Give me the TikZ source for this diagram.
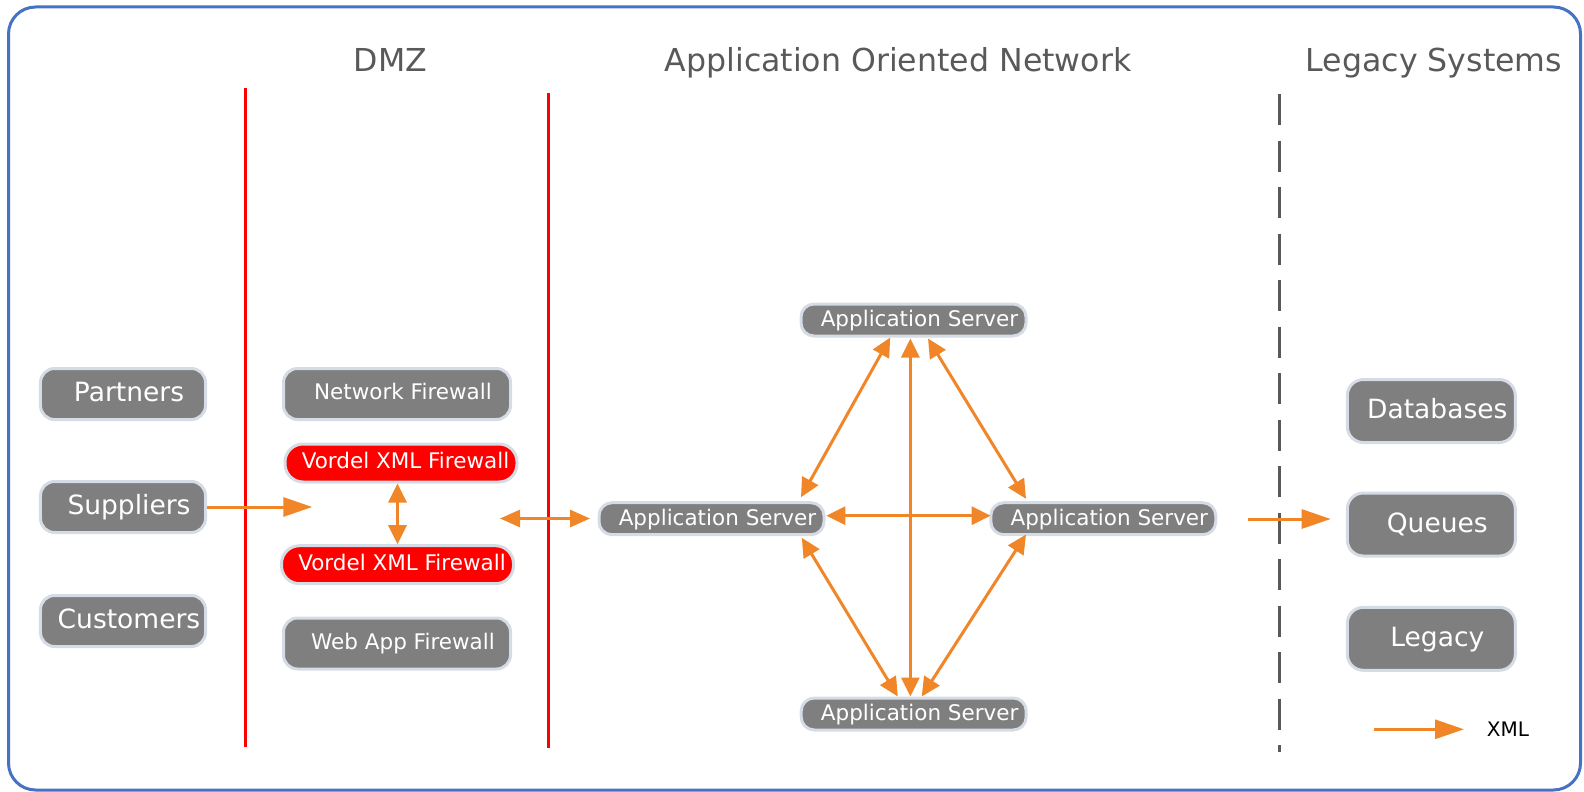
\documentclass[tikz,border=0pt]{standalone}
\usepackage{fontspec}
\setmainfont{DejaVu Sans}
\usetikzlibrary{arrows.meta,calc}
\definecolor{frameblue}{HTML}{4472C4}
\definecolor{boxgray}{HTML}{7F7F7F}
\definecolor{nodeborder}{HTML}{D6DCE5}
\definecolor{titlegray}{HTML}{595959}
\definecolor{xorange}{RGB}{240,134,40}
\tikzset{
  basebox/.style={draw=nodeborder, line width=3bp, fill=boxgray, text=white, inner sep=0pt,
    text depth=0bp, execute at begin node={\hspace*{#1}}},
  basebox/.default=12bp,
  lbox/.style={basebox, minimum width=165bp, minimum height=51bp, rounded corners=14bp,
    font=\fontsize{26.5bp}{30bp}\selectfont, text height=15.3bp},
  fwbox/.style={basebox, minimum width=227bp, minimum height=51bp, rounded corners=14bp,
    font=\fontsize{21.5bp}{25bp}\selectfont, text height=11.7bp},
  vbox/.style={basebox=9bp, fill=red, minimum width=232bp, minimum height=38bp, rounded corners=18bp,
    font=\fontsize{21.5bp}{25bp}\selectfont, text height=11.7bp},
  asbox/.style={basebox, minimum width=225bp, minimum height=32bp, rounded corners=13bp,
    font=\fontsize{21.5bp}{25bp}\selectfont, text height=13bp},
  rbox/.style={basebox, minimum width=168bp, minimum height=63bp, rounded corners=16bp,
    font=\fontsize{26.5bp}{30bp}\selectfont, text height=15.3bp},
  title/.style={text=titlegray, inner sep=0pt, font=\fontsize{31.6bp}{36bp}\selectfont,
    text height=23bp, text depth=0bp},
  xml/.style={draw=xorange, line width=3bp},
  bigarrow/.style={xml, -{Triangle[length=29bp,width=19bp]}},
  dbl/.style={xml, {Triangle[length=19bp,width=18bp]}-{Triangle[length=19bp,width=18bp]}},
}
\begin{document}
\begin{tikzpicture}[x=1bp, y=-1bp]
\useasboundingbox (0,0) rectangle (1584,792);
% frame
\draw[frameblue, line width=3bp, rounded corners=27bp] (8.5,7) rectangle (1580.5,790);
% titles
\node[title] (tdmz) at (390.5,60.5) {DMZ};
\node[title] (taon) at (898,60.5) {Application Oriented Network};
\node[title] (tleg) at (1434,60.5) {Legacy Systems};
% separators
\draw[red, line width=3bp] (245,88) -- (245,747);
\draw[red, line width=3bp] (548.5,93) -- (548.5,748);
\draw[titlegray, line width=3bp, dash pattern=on 31bp off 15.5bp] (1279,94) -- (1279,752);
% left boxes
\node[lbox] (partners) at (123,394) {Partners};
\node[lbox] (suppliers) at (123,507) {Suppliers};
\node[lbox] (customers) at (123,621) {Customers};
% DMZ boxes
\node[fwbox] (netfw) at (397,394) {Network Firewall};
\node[vbox] (vordel1) at (401,463) {Vordel XML Firewall};
\node[vbox] (vordel2) at (397.5,564.7) {Vordel XML Firewall};
\node[fwbox] (webfw) at (397,643.5) {Web App Firewall};
% application servers
\node[asbox] (atop) at (913.5,320) {Application Server};
\node[asbox] (aleft) at (711.5,518.7) {Application Server};
\node[asbox] (aright) at (1103.3,518.7) {Application Server};
\node[asbox] (abot) at (913.7,714) {Application Server};
% legacy boxes
\node[rbox] (db) at (1431.3,411) {Databases};
\node[rbox] (queues) at (1431.3,524.5) {Queues};
\node[rbox] (legacy) at (1431.3,638.8) {Legacy};
% free ends
\coordinate (supend) at (312.3,507);
\coordinate (dl1) at (500,518.5);
\coordinate (dl2) at (590,518.5);
\coordinate (q1) at (1247.7,519);
\coordinate (q2) at (1330.7,519);
\coordinate (lg1) at (1374,729.3);
\coordinate (lg2) at (1464,729.3);
% arrows
\draw[bigarrow] (suppliers.east) -- (supend);
\draw[dbl] (vordel1.south -| vordel2.north) -- (vordel2.north);
\draw[xml, {Triangle[length=20bp,width=17bp]}-{Triangle[length=20bp,width=17bp]}] (dl1) -- (dl2);
\draw[dbl] ($(atop.south)+(-23.3,0)$) -- ($(aleft.north)+(89.5,-4)$);
\draw[dbl] ($(atop.south)+(-3.1,1)$) -- ($(abot.north)+(-3.3,0)$);
\draw[dbl] ($(atop.south)+(14.5,1)$) -- ($(aright.north)+(-77.3,-2.4)$);
\draw[dbl] ($(aleft.east)+(0.8,-3)$) -- ($(aright.west)+(1.3,-3)$);
\draw[dbl] ($(aleft.south)+(90.3,1.6)$) -- ($(abot.north)+(-15.9,0)$);
\draw[dbl] ($(aright.south)+(-77.3,-1.7)$) -- ($(abot.north)+(8,0)$);
\draw[bigarrow] (q1) -- (q2);
% legend
\draw[bigarrow] (lg1) -- (lg2);
\node[inner sep=0pt, font=\fontsize{20bp}{24bp}\selectfont, text height=14.6bp, text depth=0bp] (xmltxt) at (1508,729) {XML};
\end{tikzpicture}
\end{document}
